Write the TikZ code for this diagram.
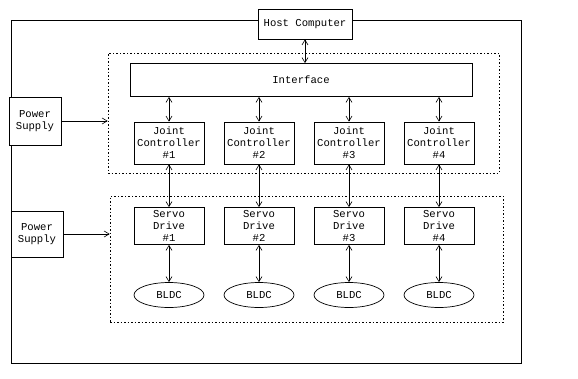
\documentclass[tikz,border=0pt]{standalone}
\usepackage{fontspec}
\setmonofont{Liberation Mono}
\usetikzlibrary{shapes.geometric,arrows.meta}
\begin{document}
\begin{tikzpicture}[x=1pt,y=-1pt,
    caja/.style={draw,fill=white,line width=0.7pt,inner sep=1pt,align=center,
      font=\ttfamily\fontsize{10.6}{12}\selectfont},
    flecha/.style={{Straight Barb[length=5pt,width=6pt]}-{Straight Barb[length=5pt,width=6pt]},line width=0.6pt},
    alim/.style={-{Straight Barb[length=5pt,width=6pt]},line width=0.6pt},
    marco/.style={draw,dash pattern=on 1.5pt off 2pt,line width=0.6pt,inner sep=0pt}]
    \useasboundingbox (0,0) rectangle (578,378);
    \draw[line width=0.7pt] (11,20) rectangle (521,363); % marco exterior
    \node[marco,minimum width=391pt,minimum height=120pt] (ctrl) at (303.5,113) {}; % controladores
    \node[marco,minimum width=393pt,minimum height=126pt] (drv) at (306.5,259) {}; % drives
    \node[caja,minimum width=94pt,minimum height=30pt] (host) at (305,24) {Host Computer};
    \node[caja,minimum width=342pt,minimum height=33pt] (iface) at (301,80) {Interface};
    \node[caja,minimum width=52pt,minimum height=48pt] (ps1) at (35,121) {Power\\Supply};
    \node[caja,minimum width=52pt,minimum height=46pt] (ps2) at (37,234) {Power\\Supply};
    \draw[alim] (ps1) -- (ps1 -| ctrl.west);
    \draw[alim] (ps2) -- (ps2 -| drv.west);
    \draw[flecha] (host.south) -- (host.south |- iface.north);
    \foreach \i/\x in {1/169,2/259,3/349,4/439} {
        \node[caja,minimum width=70pt,minimum height=42pt] (jc\i) at (\x,143) {Joint\\Controller\\\#\i};
        \node[caja,minimum width=70pt,minimum height=37pt] (sd\i) at (\x,226) {Servo\\Drive\\\#\i};
        \node[caja,ellipse,inner sep=0pt,minimum width=70pt,minimum height=25pt] (bldc\i) at (\x,295) {BLDC};
        \draw[flecha] (jc\i.north |- iface.south) -- (jc\i.north);
        \draw[flecha] (jc\i) -- (sd\i);
        \draw[flecha] (sd\i) -- (bldc\i);
    }
\end{tikzpicture}
\end{document}
